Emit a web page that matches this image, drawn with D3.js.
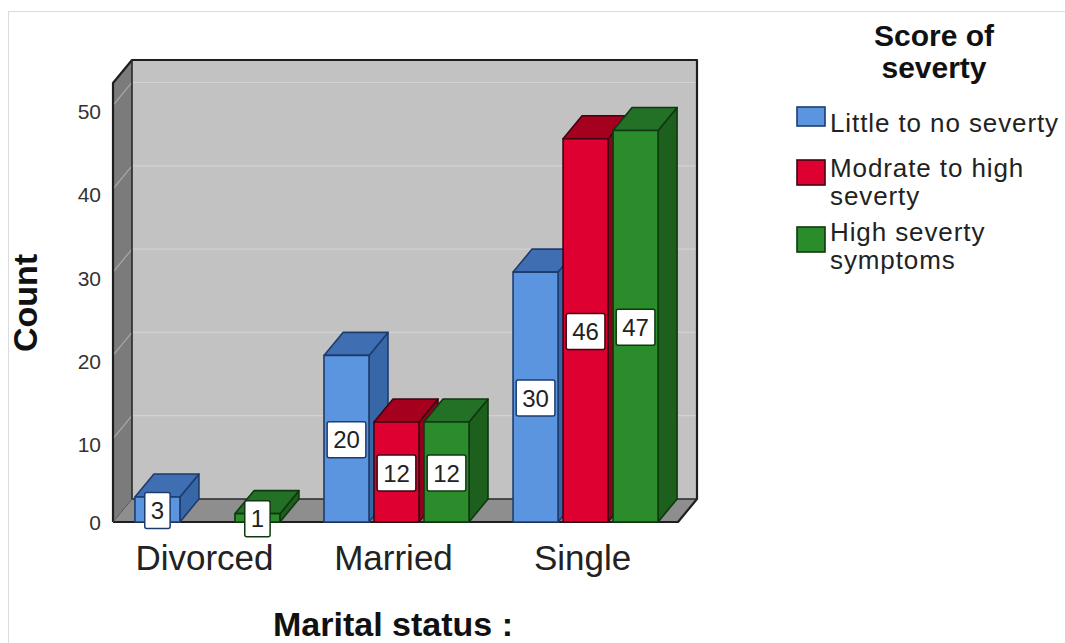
<!DOCTYPE html>
<html>
<head>
<meta charset="utf-8">
<script src="https://cdn.jsdelivr.net/npm/d3@7/dist/d3.min.js"></script>
<style>
  html, body { margin: 0; padding: 0; background: #fff; }
  svg { display: block; font-family: "Liberation Sans", Arial, sans-serif; }
</style>
</head>
<body>
<svg id="chart" width="1065" height="643"></svg>
<script>
// Marital status by score of severity (counts)
const categories = ["Divorced", "Married", "Single"];
const seriesKeys = ["little", "moderate", "high"];
const littleToNoSeverity = [3, 20, 30];
const moderateToHighSeverity = [0, 12, 46];
const highSeveritySymptoms = [1, 12, 47];
const yTicks = [0, 10, 20, 30, 40, 50];
const legendTitle = ["Score of", "severty"];
const legendLabels = [["Little to no severty"], ["Modrate to high", "severty"], ["High severty", "symptoms"]];
const xTitle = "Marital status :";
const yTitle = "Count";

const seriesValues = [littleToNoSeverity, moderateToHighSeverity, highSeveritySymptoms];

const palette = {
  little:   { front: "#5b95e0", top: "#3f6fb2", side: "#3867a8", stroke: "#1d3c6e" },
  moderate: { front: "#de0030", top: "#a6001f", side: "#93001b", stroke: "#3d0612" },
  high:     { front: "#2a8c2a", top: "#237027", side: "#1d5f1d", stroke: "#103810" }
};

const svg = d3.select("#chart");

// outer chart frame
svg.append("rect")
  .attr("x", 8.5).attr("y", 11.5).attr("width", 1070).attr("height", 650)
  .attr("fill", "none").attr("stroke", "#dcdcdc").attr("stroke-width", 1);

// depth offset of the 3D projection
const DX = 19, DY = -23;

const frontLeft = 113, frontRight = 678;
const x0 = d3.scaleBand().domain(categories).range([frontLeft, 680])
  .paddingInner(0.233).paddingOuter(0.116);
const x1 = d3.scaleBand().domain(seriesKeys).range([0, x0.bandwidth()])
  .paddingInner(0.1).paddingOuter(0);
const y = d3.scaleLinear().domain([0, 52.7]).range([522, 83]);

const y0 = y(0), yTop = y(52.7);
const line = d3.line();

const walls = svg.append("g");
// back wall
walls.append("path")
  .attr("d", line([[frontLeft + DX, yTop + DY], [frontRight + DX, yTop + DY], [frontRight + DX, y0 + DY], [frontLeft + DX, y0 + DY]]) + "Z")
  .attr("fill", "#c2c2c2");
// left side wall
walls.append("path")
  .attr("d", line([[frontLeft, yTop], [frontLeft + DX, yTop + DY], [frontLeft + DX, y0 + DY], [frontLeft, y0]]) + "Z")
  .attr("fill", "#7b7b7b");
// floor
walls.append("path")
  .attr("d", line([[frontLeft, y0], [frontLeft + DX, y0 + DY], [frontRight + DX, y0 + DY], [frontRight, y0]]) + "Z")
  .attr("fill", "#8e8e8e");

// gridlines on back wall and side wall
const grid = svg.append("g");
yTicks.filter(t => t > 0).forEach(t => {
  grid.append("line")
    .attr("x1", frontLeft + DX).attr("x2", frontRight + DX)
    .attr("y1", y(t) + DY).attr("y2", y(t) + DY)
    .attr("stroke", "#d2d2d2").attr("stroke-width", 1.2);
  grid.append("line")
    .attr("x1", frontLeft).attr("x2", frontLeft + DX)
    .attr("y1", y(t)).attr("y2", y(t) + DY)
    .attr("stroke", "#a9a9a9").attr("stroke-width", 1.2);
});

// frame edges
const edges = svg.append("g").attr("fill", "none").attr("stroke", "#1e1e1e").attr("stroke-width", 2.2)
  .attr("stroke-linejoin", "round");
edges.append("path").attr("d", line([[frontLeft, y0], [frontLeft, yTop], [frontLeft + DX, yTop + DY], [frontRight + DX, yTop + DY], [frontRight + DX, y0 + DY], [frontRight, y0], [frontLeft, y0]]));
edges.append("path").attr("d", line([[frontLeft + DX, yTop + DY], [frontLeft + DX, y0 + DY], [frontRight + DX, y0 + DY]]))
  .attr("stroke-width", 1.6).attr("stroke", "#2a2a2a");
edges.append("path").attr("d", line([[frontLeft, y0], [frontLeft + DX, y0 + DY]]))
  .attr("stroke-width", 1).attr("stroke", "#555");

// y tick labels
svg.append("g").selectAll("text").data(yTicks).join("text")
  .attr("x", 101).attr("y", d => y(d) + (d === 0 ? 0 : 6))
  .attr("text-anchor", "end").attr("dominant-baseline", "central")
  .attr("font-size", 21).attr("fill", "#333")
  .text(d => d);

// bars
const bars = [];
categories.forEach((c, ci) => {
  seriesKeys.forEach((k, si) => {
    bars.push({ cat: c, key: k, value: seriesValues[si][ci] });
  });
});

const barLayer = svg.append("g");
const labelLayer = svg.append("g");
bars.filter(d => d.value > 0).forEach(d => {
  const col = palette[d.key];
  const bx = x0(d.cat) + x1(d.key);
  const bw = x1.bandwidth();
  const yt = y(d.value);
  const g = barLayer.append("g").attr("stroke", col.stroke).attr("stroke-width", 1.6).attr("stroke-linejoin", "round");
  g.append("path")
    .attr("d", line([[bx + bw, yt], [bx + bw + DX, yt + DY], [bx + bw + DX, y0 + DY], [bx + bw, y0]]) + "Z")
    .attr("fill", col.side);
  g.append("path")
    .attr("d", line([[bx, yt], [bx + DX, yt + DY], [bx + bw + DX, yt + DY], [bx + bw, yt]]) + "Z")
    .attr("fill", col.top);
  g.append("rect")
    .attr("x", bx).attr("y", yt).attr("width", bw).attr("height", y0 - yt)
    .attr("fill", col.front);

  // value label box at mid-height of the front face
  const cx = bx + bw / 2, cy = (yt + y0) / 2 + 1;
  const lg = labelLayer.append("g");
  const rect = lg.append("rect").attr("fill", "#fff").attr("stroke", col.stroke)
    .attr("stroke-width", 1.5).attr("rx", 2);
  const txt = lg.append("text").attr("x", cx).attr("y", cy)
    .attr("text-anchor", "middle").attr("dominant-baseline", "central")
    .attr("font-size", 24).attr("fill", "#222").text(d.value);
  const w = txt.node().getComputedTextLength() + 12;
  const h = 36;
  rect.attr("x", cx - w / 2).attr("y", cy - h / 2).attr("width", w).attr("height", h);
});

// category labels
svg.append("g").selectAll("text").data(categories).join("text")
  .attr("x", d => x0(d) + x0.bandwidth() / 2 - 3).attr("y", 570)
  .attr("text-anchor", "middle").attr("font-size", 35).attr("fill", "#222")
  .text(d => d);

// axis titles
svg.append("text").attr("x", 393).attr("y", 636)
  .attr("text-anchor", "middle").attr("font-size", 34).attr("font-weight", "bold").attr("fill", "#111")
  .text(xTitle);
svg.append("text").attr("transform", "translate(37,303) rotate(-90)")
  .attr("text-anchor", "middle").attr("font-size", 34).attr("font-weight", "bold").attr("fill", "#111")
  .text(yTitle);

// legend
const legend = svg.append("g");
legend.selectAll("text.title").data(legendTitle).join("text").attr("class", "title")
  .attr("x", 934).attr("y", (d, i) => 46 + i * 32)
  .attr("text-anchor", "middle").attr("font-size", 30).attr("font-weight", "bold").attr("fill", "#111")
  .text(d => d);

const swatches = [{ y: 107, h: 19 }, { y: 160, h: 25 }, { y: 227, h: 25 }];
const baselines = [[132], [177, 205], [241, 269]];
seriesKeys.forEach((k, i) => {
  legend.append("rect")
    .attr("x", 797).attr("y", swatches[i].y).attr("width", 28).attr("height", swatches[i].h)
    .attr("fill", palette[k].front).attr("stroke", palette[k].stroke).attr("stroke-width", 1.6);
  legendLabels[i].forEach((t, j) => {
    legend.append("text").attr("x", 830).attr("y", baselines[i][j])
      .attr("font-size", 26).attr("letter-spacing", 0.9).attr("fill", "#222").text(t);
  });
});
</script>
</body>
</html>
